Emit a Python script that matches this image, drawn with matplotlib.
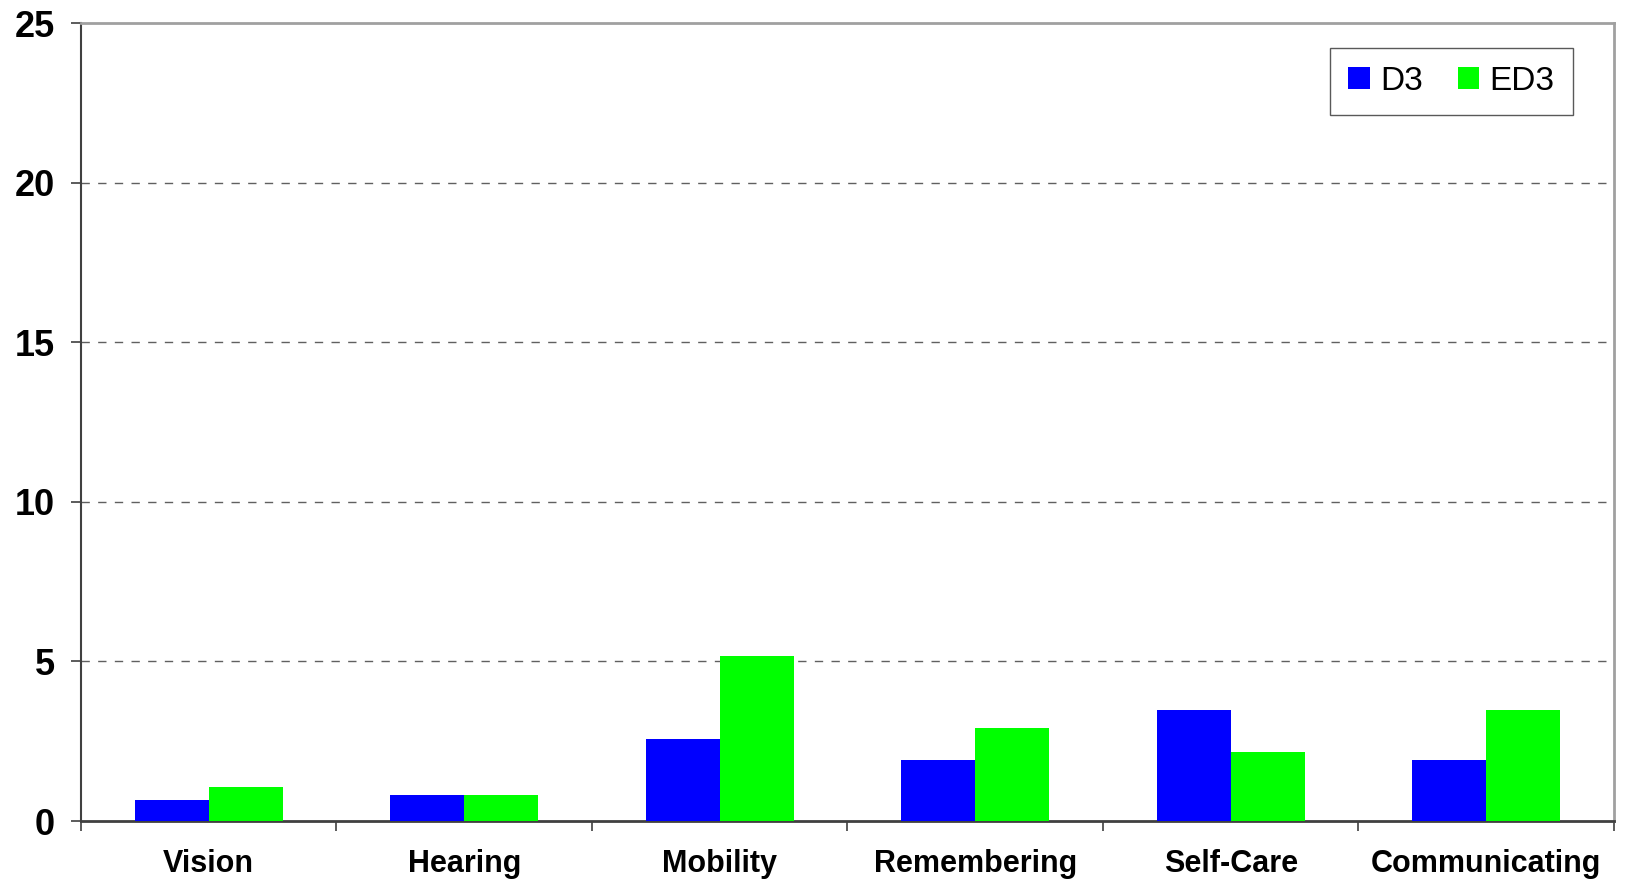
import numpy as np
import matplotlib
matplotlib.use('agg')
import matplotlib.pyplot as plt

categories = ['Vision', 'Hearing', 'Mobility', 'Remembering', 'Self-Care', 'Communicating']
d3 = [0.66, 0.82, 2.58, 1.92, 3.49, 1.92]
ed3 = [1.07, 0.82, 5.16, 2.92, 2.17, 3.49]
yticks = [0, 5, 10, 15, 20, 25]

plt.rcParams['font.family'] = ['Liberation Sans', 'DejaVu Sans']

fig = plt.figure(figsize=(16.26, 8.85), dpi=100)
ax = fig.add_axes([0.0498, 0.0723, 0.9428, 0.9017])

x = np.arange(len(categories))
w = 0.29
ax.bar(x - w/2, d3, w, color='#0000ff', label='D3', zorder=3)
ax.bar(x + w/2, ed3, w, color='#00ff00', label='ED3', zorder=3)

ax.set_xlim(-0.5, len(categories) - 0.5)
ax.set_ylim(0, 25)
ax.set_yticks(yticks)
ax.set_yticklabels([str(v) for v in yticks], fontsize=26, fontweight='bold')

# category labels centred, ticks on the boundaries
ax.set_xticks(x)
ax.set_xticklabels(categories, fontsize=22, fontweight='bold')
ax.tick_params(axis='x', which='major', length=0, pad=20)
ax.set_xticks(np.arange(-0.5, len(categories)), minor=True)
ax.tick_params(axis='x', which='minor', length=7, color='#404040', width=1.2, direction='out')
ax.tick_params(axis='y', length=7, color='#404040', width=1.2, direction='out', pad=12)

for v in yticks[1:-1]:
    ax.axhline(v, color='#606060', linestyle=(0, (6, 6)), linewidth=1.0, zorder=1)

ax.spines['left'].set_color('#404040')
ax.spines['left'].set_linewidth(1.5)
ax.spines['bottom'].set_color('#404040')
ax.spines['bottom'].set_linewidth(2.0)
ax.spines['top'].set_color('#a0a0a0')
ax.spines['top'].set_linewidth(2.0)
ax.spines['right'].set_color('#a0a0a0')
ax.spines['right'].set_linewidth(2.0)

leg = ax.legend(loc='upper right', bbox_to_anchor=(0.973, 0.969), borderaxespad=0,
                ncol=2, fontsize=24, frameon=True, fancybox=False,
                handlelength=0.65, handleheight=0.65, handletextpad=0.3,
                columnspacing=1.05, borderpad=0.55)
leg.get_frame().set_edgecolor('#303030')
leg.get_frame().set_linewidth(1.0)

plt.savefig('out.png', dpi=100)
